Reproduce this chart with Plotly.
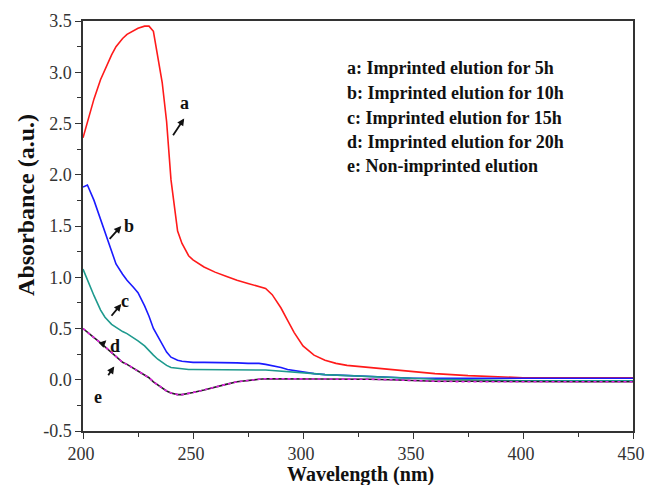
import plotly.graph_objects as go

wavelength = [200, 202, 205, 208, 210, 213, 215, 218, 220, 223, 225, 228, 230, 232, 234, 236, 238,
              240, 243, 245, 248, 250, 255, 260, 265, 270, 275, 280, 283, 286, 290, 293, 296,
              300, 305, 310, 315, 320, 330, 340, 350, 360, 375, 400, 425, 450]

abs_a = [2.36, 2.52, 2.74, 2.93, 3.03, 3.17, 3.25, 3.33, 3.37, 3.41, 3.43, 3.45, 3.45, 3.40, 3.15, 2.90, 2.52,
         1.95, 1.45, 1.33, 1.21, 1.17, 1.10, 1.05, 1.01, 0.97, 0.94, 0.91, 0.89, 0.83, 0.70, 0.58, 0.46,
         0.33, 0.24, 0.19, 0.16, 0.14, 0.12, 0.10, 0.075, 0.06, 0.04, 0.02, 0.02, 0.02]

abs_b = [1.88, 1.90, 1.75, 1.56, 1.44, 1.24, 1.13, 1.03, 0.97, 0.90, 0.85, 0.72, 0.62, 0.50, 0.42, 0.34, 0.27,
         0.22, 0.19, 0.18, 0.175, 0.17, 0.17, 0.17, 0.17, 0.165, 0.16, 0.16, 0.15, 0.14, 0.12, 0.10, 0.09,
         0.075, 0.06, 0.05, 0.045, 0.04, 0.03, 0.02, 0.015, 0.015, 0.015, 0.015, 0.015, 0.015]

abs_c = [1.08, 0.97, 0.82, 0.68, 0.61, 0.54, 0.51, 0.47, 0.45, 0.41, 0.38, 0.33, 0.28, 0.24, 0.20, 0.17, 0.14,
         0.12, 0.11, 0.105, 0.10, 0.10, 0.10, 0.10, 0.10, 0.10, 0.10, 0.10, 0.095, 0.09, 0.085, 0.08, 0.075,
         0.07, 0.06, 0.05, 0.045, 0.04, 0.03, 0.02, 0.01, 0.005, 0.0, -0.01, -0.01, -0.01]

abs_d = [0.50, 0.46, 0.41, 0.36, 0.32, 0.26, 0.22, 0.17, 0.15, 0.11, 0.09, 0.05, 0.02, -0.02, -0.05, -0.08, -0.11,
         -0.13, -0.145, -0.145, -0.135, -0.125, -0.10, -0.07, -0.045, -0.02, -0.005, 0.005, 0.01, 0.01, 0.01, 0.01, 0.01,
         0.01, 0.01, 0.01, 0.01, 0.005, 0.005, 0.0, -0.01, -0.015, -0.015, -0.02, -0.02, -0.02]

abs_e = [0.50, 0.46, 0.41, 0.36, 0.32, 0.26, 0.22, 0.17, 0.15, 0.11, 0.09, 0.05, 0.02, -0.02, -0.05, -0.08, -0.11,
         -0.13, -0.145, -0.145, -0.135, -0.125, -0.10, -0.07, -0.045, -0.02, -0.005, 0.005, 0.01, 0.01, 0.01, 0.01, 0.01,
         0.01, 0.01, 0.01, 0.01, 0.005, 0.005, 0.0, -0.01, -0.015, -0.02, -0.02, -0.02, -0.02]

x_ticks = [200, 250, 300, 350, 400, 450]
y_ticks = [-0.5, 0.0, 0.5, 1.0, 1.5, 2.0, 2.5, 3.0, 3.5]
y_tick_text = ["-0.5", "0.0", "0.5", "1.0", "1.5", "2.0", "2.5", "3.0", "3.5"]

legend_lines = ["a: Imprinted elution for 5h",
                "b: Imprinted elution for 10h",
                "c: Imprinted elution for 15h",
                "d: Imprinted elution for 20h",
                "e: Non-imprinted elution"]

# curve labels: (text, label x, label y, arrow head x, head y, arrow tail x, tail y)
curve_labels = [
    ("a", 246, 2.70, 246.0, 2.55, 240.5, 2.37),
    ("b", 220.8, 1.50, 217.4, 1.50, 211.5, 1.36),
    ("c", 219.0, 0.77, 217.4, 0.74, 212.4, 0.61),
    ("d", 214.5, 0.33, 210.6, 0.385, 207.9, 0.33),
    ("e", 207.0, -0.17, 214.2, 0.13, 211.0, 0.03),
]

serif = "Liberation Serif"

fig = go.Figure()
fig.add_trace(go.Scatter(x=wavelength, y=abs_a, mode="lines", line=dict(color="#FF1A1A", width=1.6), name="a"))
fig.add_trace(go.Scatter(x=wavelength, y=abs_b, mode="lines", line=dict(color="#1A1AFF", width=1.6), name="b"))
fig.add_trace(go.Scatter(x=wavelength, y=abs_c, mode="lines", line=dict(color="#1E9A8E", width=1.6), name="c"))
fig.add_trace(go.Scatter(x=wavelength, y=abs_d, mode="lines", line=dict(color="#222222", width=1.6), name="d"))
fig.add_trace(go.Scatter(x=wavelength, y=abs_e, mode="lines", line=dict(color="#E020E0", width=1.6, dash="dot"), name="e"))

for txt, lx, ly, hx, hy, tx, ty in curve_labels:
    fig.add_annotation(x=hx, y=hy, ax=tx, ay=ty, xref="x", yref="y", axref="x", ayref="y",
                       text="", showarrow=True, arrowhead=2, arrowsize=0.8, arrowwidth=1.8,
                       arrowcolor="#111111")
    fig.add_annotation(x=lx, y=ly, xref="x", yref="y", text="<b>%s</b>" % txt, showarrow=False,
                       font=dict(family=serif, size=18, color="#111111"))

legend_y = [0.885, 0.824, 0.763, 0.705, 0.646]
for t, yy in zip(legend_lines, legend_y):
    fig.add_annotation(x=0.476, y=yy, xref="paper", yref="paper", text="<b>%s</b>" % t,
                       showarrow=False, xanchor="left", yanchor="middle",
                       font=dict(family=serif, size=18, color="#111111"))

# axis titles
fig.add_annotation(x=0.505, y=-0.106, xref="paper", yref="paper", text="<b>Wavelength (nm)</b>",
                   showarrow=False, xanchor="center", yanchor="middle",
                   font=dict(family=serif, size=20, color="#111111"))
fig.add_annotation(x=-0.105, y=0.552, xref="paper", yref="paper", text="<b>Absorbance (a.u.)</b>",
                   showarrow=False, xanchor="center", yanchor="middle", textangle=-90,
                   font=dict(family=serif, size=24, color="#111111"))

axis_common = dict(showgrid=False, zeroline=False, showline=True, linecolor="#333333", linewidth=1.5,
                   mirror=True, ticks="outside", ticklen=6, tickwidth=1.3, tickcolor="#333333",
                   automargin=False, ticklabeloverflow="allow",
                   tickfont=dict(family=serif, size=18, color="#333333"))

fig.update_xaxes(range=[200, 450], tickvals=x_ticks, ticklabelshift=-2,
                 minor=dict(ticks="outside", ticklen=4, tickwidth=1.2, tickcolor="#333333", dtick=25, tick0=200),
                 **axis_common)
fig.update_yaxes(range=[-0.5, 3.5], tickvals=y_ticks, ticktext=y_tick_text,
                 minor=dict(ticks="outside", ticklen=4, tickwidth=1.2, tickcolor="#333333", dtick=0.25, tick0=0),
                 **axis_common)

fig.update_layout(width=645, height=485, margin=dict(l=83, r=12, t=21, b=54),
                  plot_bgcolor="white", paper_bgcolor="white", showlegend=False)

fig.write_html("out.html", config={"displayModeBar": False},
               post_script="document.body.style.margin='0';document.body.style.overflow='hidden';")
